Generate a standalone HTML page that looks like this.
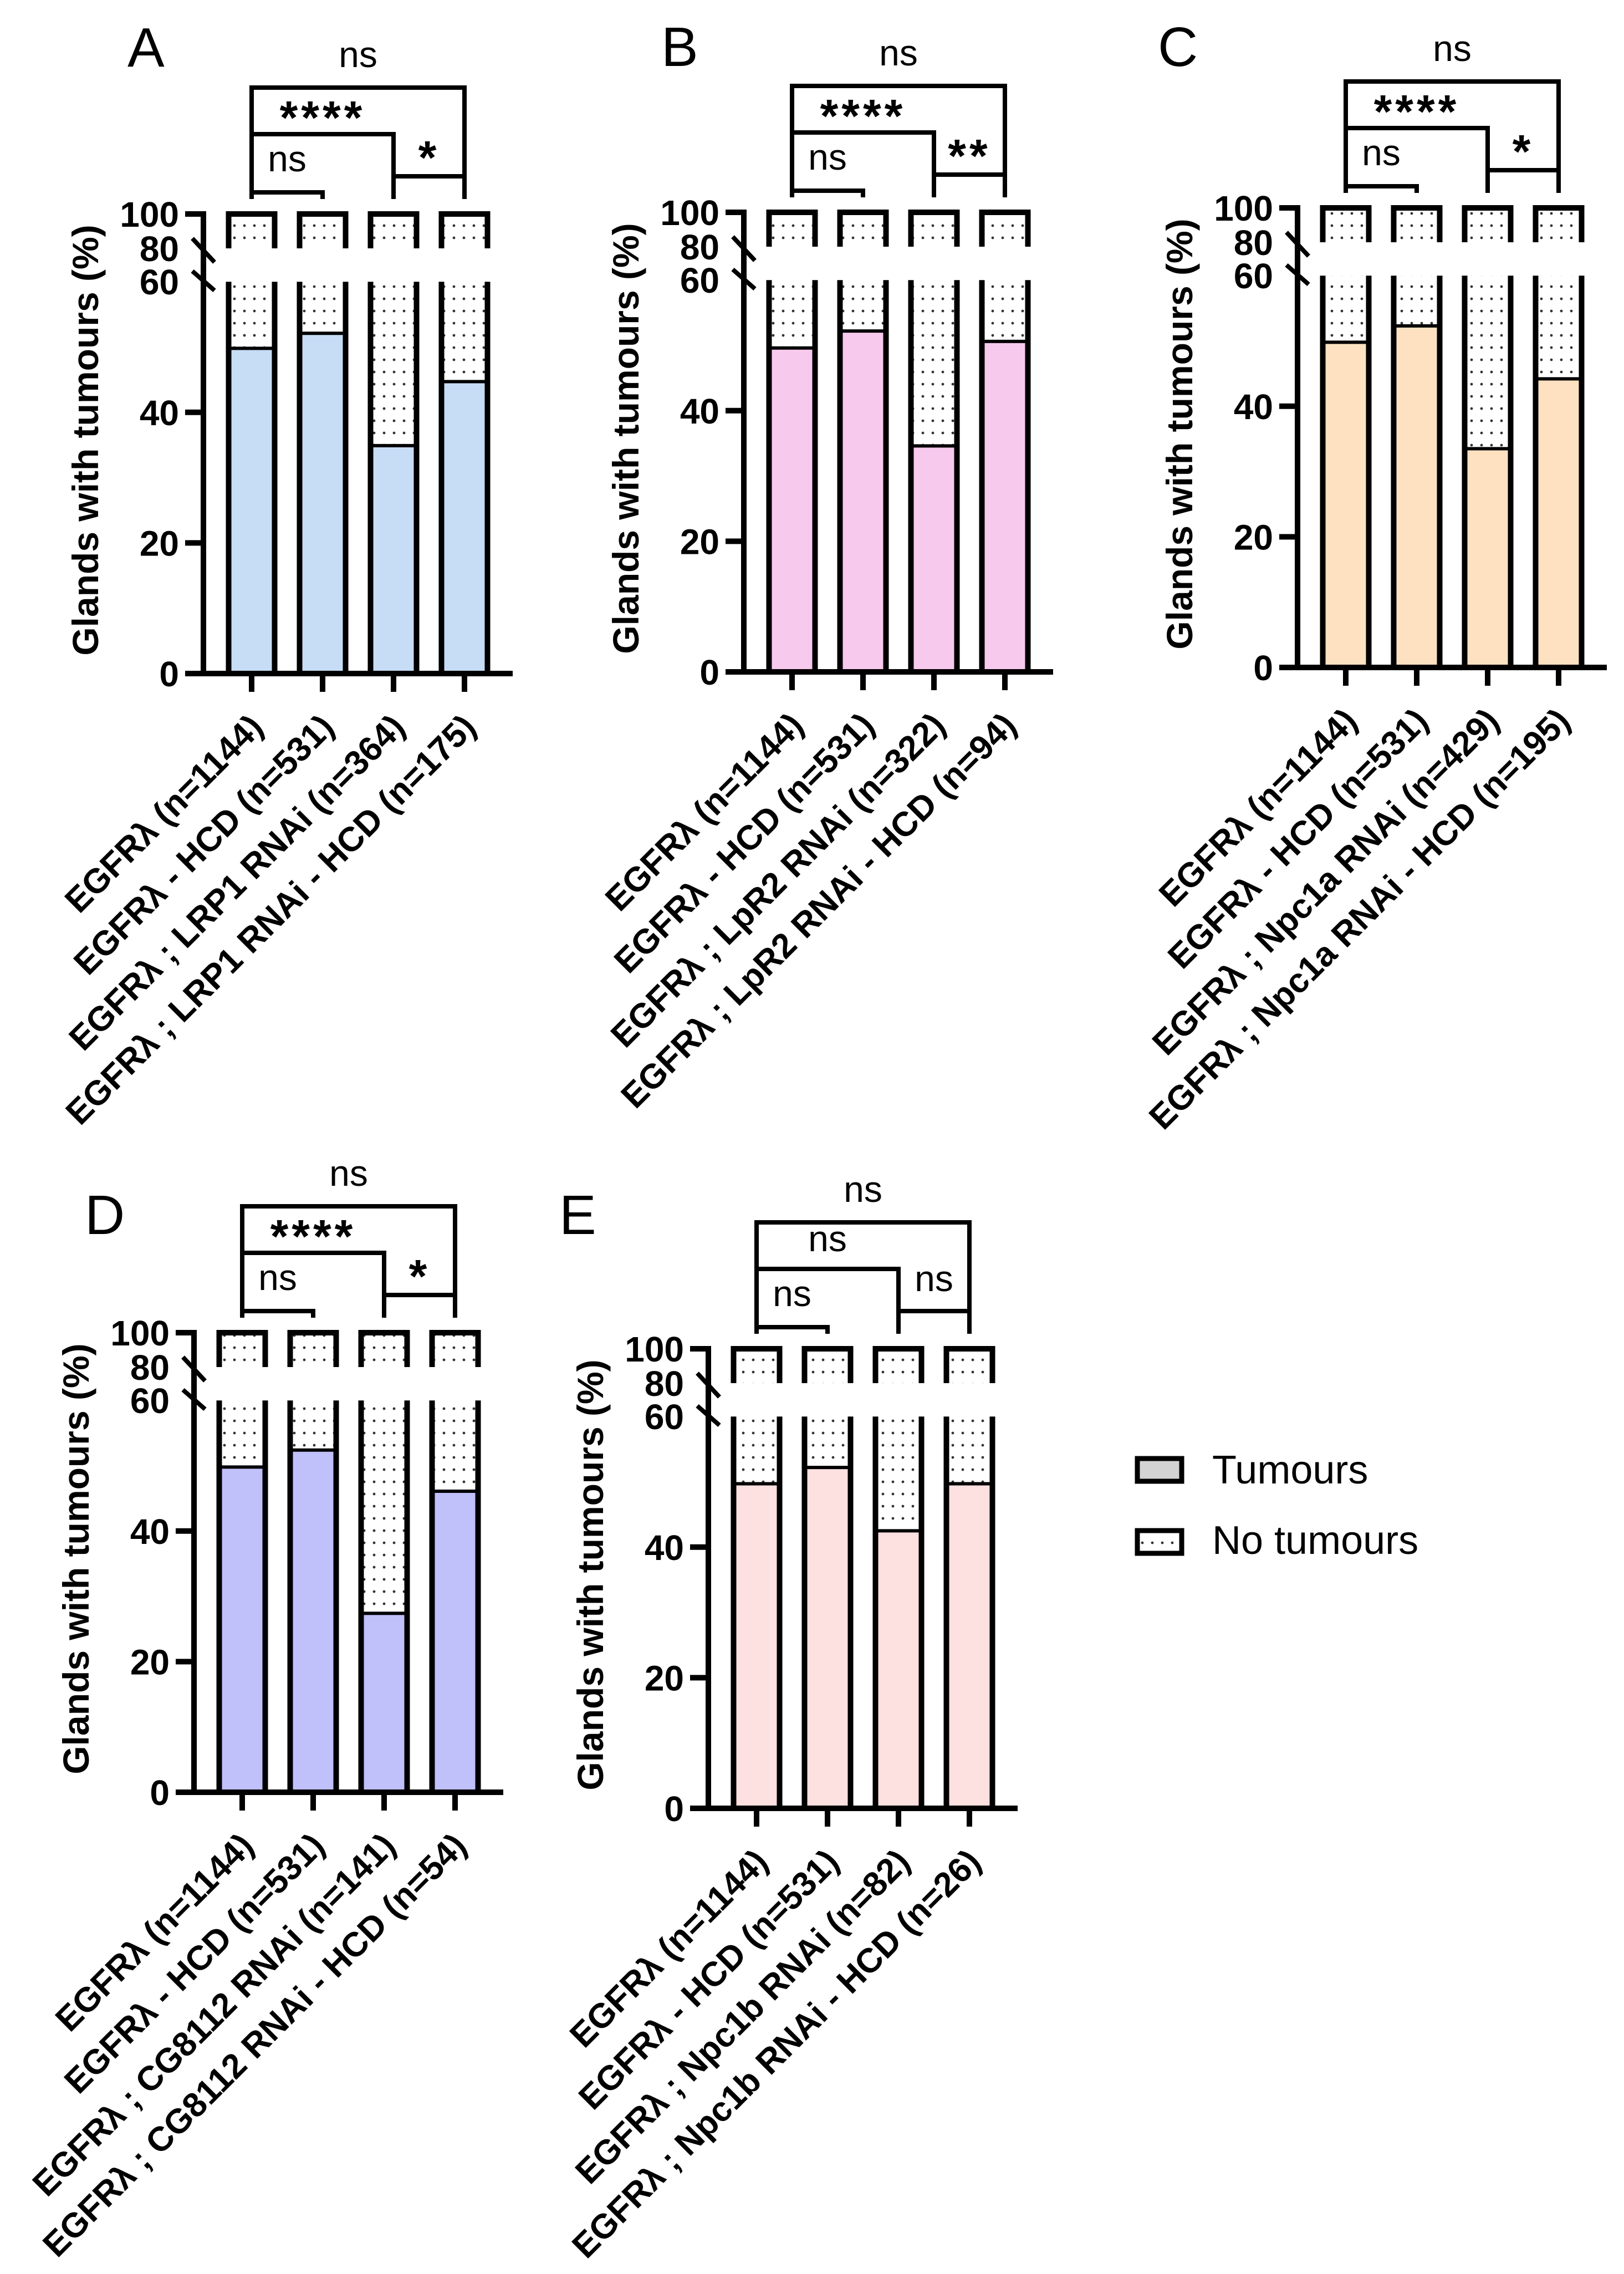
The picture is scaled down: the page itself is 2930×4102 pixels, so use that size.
<!DOCTYPE html>
<html><head><meta charset="utf-8"><style>
html,body{margin:0;padding:0;background:#fff;}
svg{display:block;font-family:"Liberation Sans",Arial,sans-serif;}
</style></head><body>
<svg id="fig" width="2930" height="4102" viewBox="0 0 2930 4102" xmlns="http://www.w3.org/2000/svg">
<defs>
<pattern id="dots" patternUnits="userSpaceOnUse" width="18" height="22"><circle cx="9" cy="11" r="2.4" fill="#333"/></pattern>
</defs>
<g id="legend">
<rect x="2052" y="2631" width="80" height="41" fill="#d3d3d3" stroke="#000" stroke-width="9"/>
<text x="2187" y="2676" font-size="72">Tumours</text>
<rect x="2052" y="2761" width="80" height="41" fill="url(#dots)" stroke="#000" stroke-width="9"/>
<text x="2187" y="2803" font-size="72">No tumours</text>
</g>
</svg>
<script>
const panelLetters = ["A","B","C","D","E"];
const valsA = [49.8, 52.1, 34.9, 44.7];
const valsB = [49.6, 52.2, 34.6, 50.6];
const valsC = [49.8, 52.3, 33.5, 44.2];
const valsD = [49.8, 52.4, 27.4, 46.1];
const valsE = [49.7, 52.2, 42.5, 49.7];
const catsA = ["EGFRλ (n=1144)","EGFRλ - HCD (n=531)","EGFRλ ; LRP1 RNAi (n=364)","EGFRλ ; LRP1 RNAi - HCD (n=175)"];
const catsB = ["EGFRλ (n=1144)","EGFRλ - HCD (n=531)","EGFRλ ; LpR2 RNAi (n=322)","EGFRλ ; LpR2 RNAi - HCD (n=94)"];
const catsC = ["EGFRλ (n=1144)","EGFRλ - HCD (n=531)","EGFRλ ; Npc1a RNAi (n=429)","EGFRλ ; Npc1a RNAi - HCD (n=195)"];
const catsD = ["EGFRλ (n=1144)","EGFRλ - HCD (n=531)","EGFRλ ; CG8112 RNAi (n=141)","EGFRλ ; CG8112 RNAi - HCD (n=54)"];
const catsE = ["EGFRλ (n=1144)","EGFRλ - HCD (n=531)","EGFRλ ; Npc1b RNAi (n=82)","EGFRλ ; Npc1b RNAi - HCD (n=26)"];
// order: top (1-4), second (1-3), third (3-4), bottom (1-2)
const sigA = ["ns","****","*","ns"];
const sigB = ["ns","****","**","ns"];
const sigC = ["ns","****","*","ns"];
const sigD = ["ns","****","*","ns"];
const sigE = ["ns","ns","ns","ns"];
const lowerTicks = [0,20,40,60];
const upperTicks = [80,100];

const NS="http://www.w3.org/2000/svg";
const svg=document.getElementById('fig');
function mk(tag,attrs,parent,txt){const e=document.createElementNS(NS,tag);for(const k in attrs)e.setAttribute(k,attrs[k]);if(txt!==undefined)e.textContent=txt;(parent||svg).appendChild(e);return e;}

const layouts=[
 {ax:367,z:1215,lx:234,ly:120,color:"#c7dcf5"},
 {ax:1342,z:1212,lx:1197,ly:119,color:"#f7c9ed"},
 {ax:2341,z:1204,lx:2093,ly:119,color:"#fde1c1"},
 {ax:350,z:3233,lx:157,ly:2226,color:"#c0c0fb"},
 {ax:1278,z:3262,lx:1013,ly:2226,color:"#fde0e0"}
];
const allVals=[valsA,valsB,valsC,valsD,valsE];
const allCats=[catsA,catsB,catsC,catsD,catsE];
const allSig=[sigA,sigB,sigC,sigD,sigE];

layouts.forEach((L,p)=>{
 const g=mk('g',{});
 
 
 const Z=L.z, AX=L.ax;
 const yL=v=>Z-v*11.78;
 const yU=v=>Z-767-(v-80)*3.1;
 const xC=i=>AX+87+128*i;
 const bw=83;
 const letter=mk('text',{x:L.lx-4,y:L.ly,'font-size':100},g,panelLetters[p]);
 
 
 const vals=allVals[p];
 vals.forEach((v,i)=>{
  const cx=xC(i),l=cx-bw/2,r=cx+bw/2;
  const bg=mk('g',{},g);
  
  
  mk('rect',{x:l,y:yL(v),width:bw,height:Z-yL(v),fill:L.color},bg);
  mk('rect',{x:l,y:yL(60),width:bw,height:yL(v)-yL(60),fill:"url(#dots)"},bg);
  mk('rect',{x:l,y:yU(100),width:bw,height:yU(80)-yU(100),fill:"url(#dots)"},bg);
  mk('line',{x1:l,x2:r,y1:yL(v),y2:yL(v),stroke:"#000","stroke-width":6},bg);
  mk('path',{d:`M${l},${yL(60)}V${Z}M${r},${yL(60)}V${Z}M${l},${yU(80)}V${yU(100)}H${r}V${yU(80)}`,fill:"none",stroke:"#000","stroke-width":10},bg);
 });
 const ya=mk('g',{},g);
 
 
 mk('path',{d:`M${AX-33},${yU(100)}H${AX}V${Z}`,fill:"none",stroke:"#000","stroke-width":10},ya);
 lowerTicks.forEach(t=>{
  if(t<60) mk('line',{x1:AX-33,x2:AX,y1:yL(t),y2:yL(t),stroke:"#000","stroke-width":10},ya);
  const tl=mk('text',{x:AX-44,y:yL(t)+23,'font-size':64,'font-weight':'bold','text-anchor':'end'},ya,String(t));
  
  
 });
 upperTicks.forEach(t=>{
  const tl=mk('text',{x:AX-44,y:yU(t)+23,'font-size':64,'font-weight':'bold','text-anchor':'end'},ya,String(t));
  
  
 });
 mk('line',{x1:AX-20,y1:Z-785,x2:AX+20,y2:Z-742,stroke:"#000","stroke-width":8},ya);
 mk('line',{x1:AX-20,y1:Z-726,x2:AX+20,y2:Z-691,stroke:"#000","stroke-width":8},ya);
 const yt=mk('text',{x:0,y:0,'font-size':66,'font-weight':'bold','text-anchor':'middle',transform:`translate(${AX-190},${Z-421}) rotate(-90)`},ya,"Glands with tumours (%)");
 
 
 const xa=mk('g',{},g);
 
 
 mk('line',{x1:AX-33,x2:AX+558,y1:Z,y2:Z,stroke:"#000","stroke-width":10},xa);
 allCats[p].forEach((c,i)=>{
  mk('line',{x1:xC(i),x2:xC(i),y1:Z,y2:Z+33,stroke:"#000","stroke-width":10},xa);
  const t=mk('text',{x:0,y:0,'font-size':62,'font-weight':'bold','text-anchor':'end',transform:`translate(${xC(i)+24},${Z+100}) rotate(-45)`},xa,c);
  
  
 });
 const sg=mk('g',{},g);
 
 
 const legY=Z-856;
 const br=[[0,3,Z-1057],[0,2,Z-973],[2,3,Z-897],[0,1,Z-868]];
 const labY=[Z-1111,Z-1022,Z-950,Z-923];
 br.forEach((b,k)=>{
  const a=xC(b[0]),c=xC(b[1]);
  mk('path',{d:`M${a},${legY}V${b[2]}H${c}V${legY}`,fill:"none",stroke:"#000","stroke-width":8},sg);
  const s=allSig[p][k];
  const star=s!=="ns";
  const t=mk('text',{x:(a+c)/2,y:labY[k]+(star?48:17),'font-size':star?84:66,'font-weight':star?'bold':'normal','text-anchor':'middle','letter-spacing':star?6:0},sg,s);
  
  
 });
});
</script>
</body></html>
